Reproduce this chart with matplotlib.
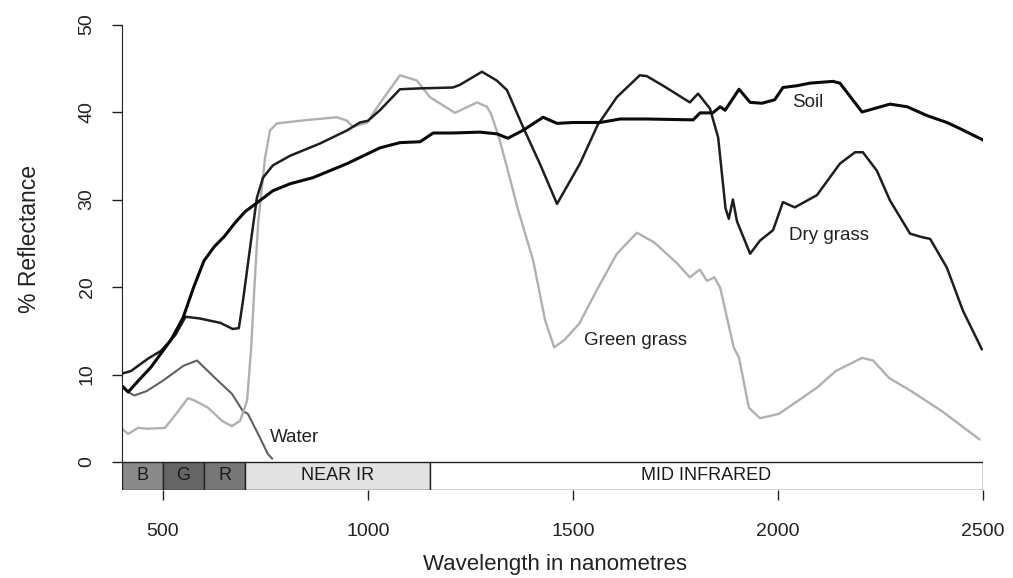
import matplotlib
matplotlib.use("Agg")
import matplotlib.pyplot as plt
from matplotlib.patches import Rectangle

# spectral reflectance curves
soil_nm = [400, 415, 440, 470, 495, 520, 549, 575, 600, 625, 650, 675, 700, 737, 768,
           810, 866, 949, 1029, 1078, 1127, 1159, 1207, 1273, 1315, 1341, 1378, 1427,
           1461, 1500, 1566, 1615, 1680, 1793, 1810, 1841, 1859, 1871, 1905, 1932, 1961,
           1992, 2012, 2046, 2078, 2134, 2151, 2205, 2273, 2315, 2363, 2412, 2444, 2500]
soil_pct = [8.7, 8.0, 9.3, 10.8, 12.4, 14.0, 16.5, 20.0, 23.0, 24.6, 25.8, 27.3, 28.6,
            29.9, 31.0, 31.8, 32.5, 34.1, 35.9, 36.5, 36.6, 37.6, 37.6, 37.7, 37.5, 37.0,
            37.9, 39.4, 38.7, 38.8, 38.8, 39.2, 39.2, 39.1, 39.9, 39.9, 40.6, 40.2, 42.6,
            41.1, 41.0, 41.4, 42.8, 43.0, 43.3, 43.5, 43.3, 40.0, 40.9, 40.6, 39.6, 38.8,
            38.1, 36.8]

dry_nm = [400, 422, 463, 495, 530, 555, 590, 640, 670, 685, 695, 717, 729, 744, 768,
          810, 883, 949, 980, 1000, 1029, 1078, 1127, 1207, 1224, 1278, 1314, 1339, 1378,
          1420, 1461, 1517, 1560, 1607, 1663, 1680, 1720, 1785, 1805, 1834, 1854, 1872,
          1880, 1890, 1900, 1932, 1956, 1988, 2012, 2041, 2095, 2151, 2188, 2207, 2241,
          2273, 2322, 2351, 2371, 2412, 2451, 2497]
dry_pct = [10.1, 10.4, 11.8, 12.7, 14.5, 16.6, 16.4, 15.9, 15.2, 15.3, 18.4, 26.1,
           30.2, 32.5, 33.9, 35.0, 36.4, 37.9, 38.8, 39.0, 40.2, 42.6, 42.7, 42.8, 43.1,
           44.6, 43.6, 42.5, 38.3, 34.0, 29.5, 34.1, 38.5, 41.7, 44.2, 44.1, 43.0, 41.1,
           42.1, 40.4, 37.1, 29.0, 27.8, 30.0, 27.5, 23.8, 25.3, 26.5, 29.7, 29.1, 30.5,
           34.1, 35.4, 35.4, 33.3, 29.9, 26.1, 25.7, 25.5, 22.2, 17.3, 12.9]

green_nm = [400, 415, 439, 463, 505, 537, 561, 578, 610, 644, 668, 688, 705, 715, 723,
            732, 749, 761, 778, 834, 924, 949, 963, 998, 1029, 1078, 1119, 1151, 1212,
            1266, 1290, 1300, 1320, 1340, 1365, 1403, 1432, 1454, 1478, 1515, 1561, 1607,
            1656, 1698, 1754, 1785, 1809, 1827, 1845, 1859, 1877, 1892, 1905, 1929, 1956,
            2002, 2049, 2095, 2141, 2205, 2232, 2271, 2325, 2400, 2491]
green_pct = [3.8, 3.2, 3.9, 3.8, 3.9, 5.8, 7.3, 7.0, 6.2, 4.7, 4.1, 4.7, 7.0, 13.0,
             20.0, 27.3, 34.8, 37.9, 38.7, 39.0, 39.4, 39.0, 38.3, 38.8, 41.0, 44.2, 43.6,
             41.7, 39.9, 41.1, 40.6, 39.8, 37.0, 33.5, 29.0, 23.0, 16.2, 13.1, 13.9, 15.8,
             19.9, 23.8, 26.2, 25.1, 22.7, 21.1, 22.0, 20.7, 21.1, 19.9, 16.2, 13.1, 11.9,
             6.2, 5.0, 5.5, 7.0, 8.5, 10.4, 11.9, 11.6, 9.6, 8.1, 5.8, 2.6]

water_nm = [400, 415, 430, 460, 500, 550, 583, 627, 668, 695, 707, 732, 756, 766]
water_pct = [8.7, 8.0, 7.6, 8.1, 9.3, 11.0, 11.6, 9.6, 7.8, 5.8, 5.5, 3.2, 0.9, 0.4]

band_names = ["B", "G", "R", "NEAR IR", "MID INFRARED"]
band_start = [400, 500, 600, 700, 1150]
band_end = [500, 600, 700, 1150, 2500]
band_colours = ["#8a8a8a", "#666666", "#777777", "#e2e2e2", "#ffffff"]

x_ticks = [500, 1000, 1500, 2000, 2500]
y_ticks = [0, 10, 20, 30, 40, 50]

plt.rcParams["font.family"] = ["Liberation Sans", "DejaVu Sans"]

fig = plt.figure(figsize=(10.13, 5.78), dpi=100)
ax = fig.add_axes([122 / 1013, 1 - 490 / 578, 861 / 1013, 465.5 / 578])

bar_low = -3.2
for name, x0, x1, col in zip(band_names, band_start, band_end, band_colours):
    ax.add_patch(Rectangle((x0, bar_low), x1 - x0, -bar_low, facecolor=col,
                           edgecolor="#222222", linewidth=1.0, zorder=3))
    ax.text((x0 + x1) / 2, bar_low / 2, name, ha="center", va="center",
            fontsize=13, color="#1a1a1a", zorder=4)

ax.plot(water_nm, water_pct, color="#606060", linewidth=1.5)
ax.plot(green_nm, green_pct, color="#b0b0b0", linewidth=1.7)
ax.plot(dry_nm, dry_pct, color="#1e1e1e", linewidth=1.8)
ax.plot(soil_nm, soil_pct, color="#0a0a0a", linewidth=2.2)

ax.text(2034, 41.1, "Soil", fontsize=13.5, va="center", color="#222222")
ax.text(2027, 25.9, "Dry grass", fontsize=13.5, va="center", color="#222222")
ax.text(1527, 13.9, "Green grass", fontsize=13.5, va="center", color="#222222")
ax.text(761, 2.75, "Water", fontsize=13.5, va="center", color="#222222")

ax.set_xlim(400, 2500)
ax.set_ylim(bar_low, 50)
ax.set_xticks(x_ticks)
ax.set_yticks(y_ticks)
ax.set_yticklabels([str(v) for v in y_ticks], rotation=90, va="center")

for side in ["top", "right", "bottom"]:
    ax.spines[side].set_visible(False)
ax.spines["left"].set_bounds(0, 50)
ax.spines["left"].set_color("#222222")

ax.tick_params(axis="x", length=7, width=1, pad=17, labelsize=14, colors="#222222")
ax.tick_params(axis="y", length=7, width=1, pad=12, labelsize=14, colors="#222222")

ax.set_xlabel("Wavelength in nanometres", fontsize=16, color="#222222")
ax.set_ylabel("% Reflectance", fontsize=16.5, color="#222222")
ax.xaxis.set_label_coords(0.503, -0.161)
ax.xaxis.label.set_va("center")
ax.yaxis.set_label_coords(-0.107, 0.54)
ax.yaxis.label.set_va("center")

fig.savefig("out.png", dpi=100)
